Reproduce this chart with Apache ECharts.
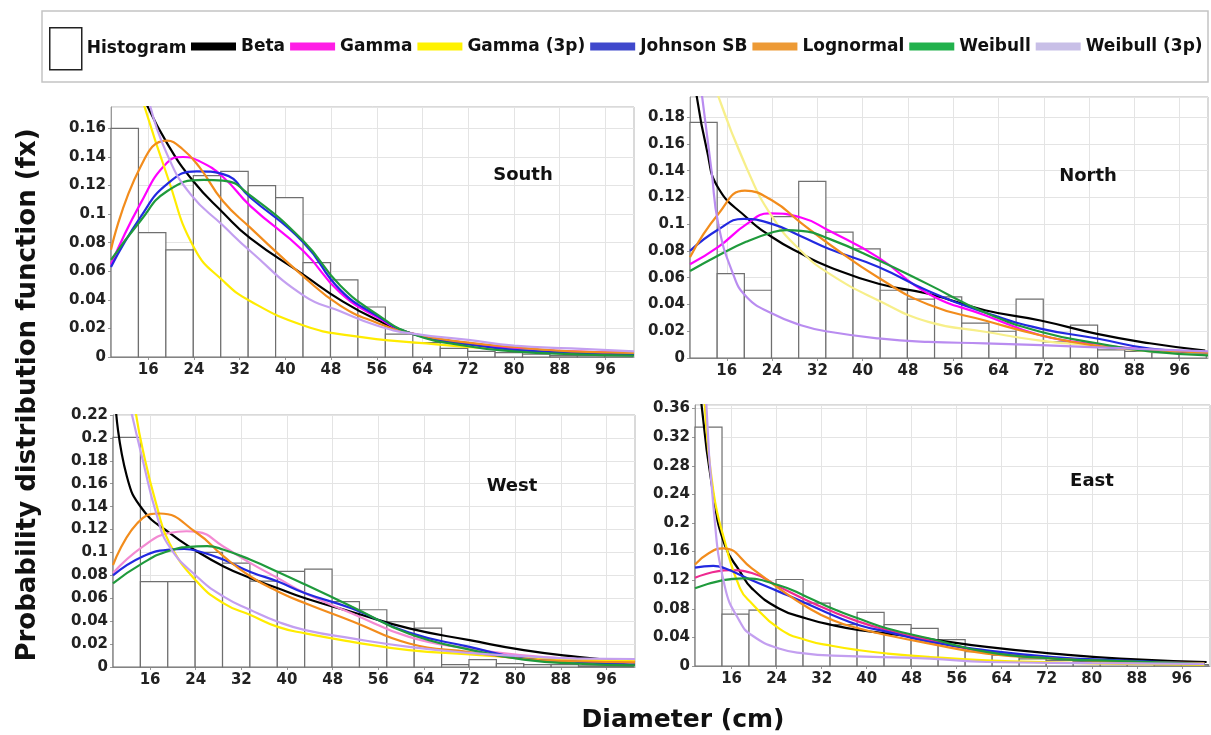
<!DOCTYPE html>
<html>
<head>
<meta charset="utf-8">
<title>Diameter distributions by region</title>
<script src="https://cdn.jsdelivr.net/npm/echarts@6/dist/echarts.min.js"></script>
<style>
  html, body { margin: 0; padding: 0; background: #fff; }
  #main { width: 1211px; height: 735px; }
</style>
</head>
<body>
<div id="main"></div>
<script>
// bin edges of the diameter histogram (cm), same for all regions
var binEdges = [9.5, 14.3, 19.1, 23.9, 28.7, 33.5, 38.3, 43.1, 47.9, 52.7, 57.5,
                62.3, 67.1, 71.9, 76.7, 81.5, 86.3, 91.1, 95.9, 100.7];
var xTicks = [16, 24, 32, 40, 48, 56, 64, 72, 80, 88, 96];
var distNames = ['Beta', 'Gamma', 'Gamma (3p)', 'Johnson SB', 'Lognormal', 'Weibull', 'Weibull (3p)'];

// histogram densities (one per bin)
var southHist = [0.160, 0.087, 0.075, 0.127, 0.130, 0.120, 0.1115, 0.066, 0.054, 0.035,
                 0.016, 0.010, 0.006, 0.004, 0.003, 0.002, 0.001, 0.001, 0.001];
var northHist = [0.176, 0.063, 0.0506, 0.1056, 0.132, 0.094, 0.0815, 0.0506, 0.044, 0.0456,
                 0.026, 0.020, 0.044, 0.012, 0.0245, 0.006, 0.005, 0.004, 0.003];
var westHist = [0.2005, 0.0746, 0.0746, 0.100, 0.0907, 0.075, 0.0834, 0.0855, 0.057, 0.050,
                0.0395, 0.034, 0.002, 0.0065, 0.003, 0.002, 0.002, 0.001, 0.001];
var eastHist = [0.334, 0.0725, 0.078, 0.121, 0.088, 0.058, 0.075, 0.058, 0.0525, 0.037,
                0.020, 0.015, 0.010, 0.008, 0.006, 0.004, 0.003, 0.002, 0.002];

// fitted pdf curves, [diameter, density]
var southBeta = [[15.6,0.178],[19.4,0.149],[23.9,0.123],[29.1,0.101],[33.9,0.083],[43.2,0.0575],[49.6,0.040],[56,0.026],[62,0.0165],[72,0.009],[80,0.006],[90,0.0035],[101,0.002]];
var southGamma = [[9.5,0.0646],[14.6,0.107],[19.3,0.136],[22.1,0.140],[25,0.137],[29.1,0.126],[33.9,0.1056],[43.2,0.074],[49.6,0.045],[56,0.028],[62,0.0165],[72,0.0097],[80,0.006],[90,0.004],[101,0.003]];
var southGamma3p = [[15.0,0.180],[19.4,0.126],[24.1,0.076],[29.2,0.053],[33.9,0.039],[43.2,0.022],[51.4,0.015],[64,0.0097],[80,0.005],[101,0.002]];
var southJohnson = [[9.5,0.063],[14.6,0.0975],[19.3,0.121],[24.5,0.130],[29.1,0.128],[33.9,0.1115],[43.2,0.080],[49.6,0.047],[56,0.029],[62,0.0165],[72,0.009],[80,0.005],[90,0.003],[101,0.0015]];
var southLognormal = [[9.5,0.075],[14.6,0.1327],[19.3,0.1514],[22,0.1456],[25,0.1327],[29.1,0.109],[33.9,0.0904],[43.2,0.0563],[49.6,0.036],[56,0.024],[62,0.0165],[72,0.010],[80,0.007],[90,0.004],[101,0.003]];
var southWeibull = [[9.5,0.068],[14.6,0.095],[19.3,0.116],[25.7,0.124],[29.1,0.1235],[33.9,0.113],[43.2,0.081],[49.6,0.050],[56,0.030],[62,0.0165],[72,0.0075],[80,0.004],[90,0.002],[101,0.001]];
var southWeibull3p = [[16.2,0.178],[19.3,0.142],[23.4,0.114],[29.1,0.092],[33.9,0.074],[43.2,0.043],[49.6,0.032],[56,0.022],[62,0.0165],[72,0.012],[80,0.008],[90,0.006],[101,0.004]];

var northBeta = [[10.6,0.198],[12.5,0.155],[14.5,0.127],[19.5,0.105],[24.1,0.090],[29.1,0.078],[34.1,0.068],[42.8,0.0555],[51.6,0.048],[61.6,0.0357],[71.4,0.028],[81.4,0.018],[90.7,0.011],[100.5,0.0055]];
var northGamma = [[9.5,0.070],[14.5,0.083],[19.5,0.100],[23.5,0.108],[29.1,0.105],[34.1,0.095],[42.8,0.075],[51.6,0.048],[61.6,0.032],[71.4,0.017],[81.4,0.010],[90.7,0.006],[101,0.004]];
var northGamma3p = [[14.3,0.198],[19.5,0.142],[24.1,0.105],[29.1,0.080],[34.1,0.063],[42.8,0.043],[51.6,0.027],[61.6,0.0196],[71.4,0.013],[81.4,0.009],[90.7,0.005],[101,0.003]];
var northJohnson = [[9.5,0.080],[14.5,0.096],[19,0.104],[24.1,0.100],[29.1,0.091],[34.1,0.0815],[42.8,0.068],[51.6,0.050],[61.6,0.034],[71.4,0.022],[81.4,0.0146],[90.7,0.007],[101,0.004]];
var northLognormal = [[9.5,0.0753],[14.5,0.1076],[19.2,0.125],[24.1,0.1175],[29.1,0.101],[34.1,0.085],[42.8,0.060],[51.6,0.040],[61.6,0.028],[71.4,0.017],[81.4,0.009],[90.7,0.006],[101,0.004]];
var northWeibull = [[9.5,0.065],[14.5,0.0766],[19.5,0.087],[24.1,0.094],[26.5,0.0955],[29.1,0.095],[34.1,0.089],[42.8,0.073],[51.6,0.055],[61.6,0.034],[71.4,0.0196],[81.4,0.011],[90.7,0.005],[101,0.002]];
var northWeibull3p = [[11.5,0.200],[13.3,0.140],[14.5,0.100],[17,0.064],[19.5,0.0456],[24.1,0.033],[29.1,0.0245],[34.1,0.0196],[42.8,0.0146],[51.6,0.012],[61.6,0.011],[81.4,0.008],[101,0.005]];

var westBeta = [[10.0,0.225],[11.9,0.167],[14.7,0.1375],[19.4,0.117],[24.2,0.101],[28.9,0.0878],[33.6,0.0776],[38.4,0.0688],[43.2,0.060],[51.4,0.048],[61.4,0.0337],[72,0.0234],[81.5,0.0147],[90.9,0.0088],[101,0.004]];
var westGamma = [[9.5,0.082],[14.7,0.105],[19.4,0.117],[22.4,0.1185],[24.2,0.118],[28.9,0.105],[33.6,0.0907],[38.4,0.0776],[43.2,0.0644],[51.4,0.0468],[61.4,0.0263],[72,0.0161],[81.5,0.0102],[90.9,0.007],[101,0.005]];
var westGamma3p = [[13.4,0.225],[14.7,0.190],[17.2,0.140],[19.4,0.108],[24.2,0.0746],[28.9,0.0556],[33.6,0.0454],[38.4,0.035],[43.2,0.0293],[51.4,0.022],[61.4,0.0147],[72,0.0111],[81.5,0.008],[90.9,0.0064],[101,0.005]];
var westJohnson = [[9.5,0.080],[14.7,0.0965],[19.4,0.1024],[22,0.103],[24.2,0.1015],[28.9,0.0936],[33.6,0.083],[38.4,0.0746],[43.2,0.0644],[51.4,0.051],[61.4,0.030],[72,0.0176],[81.5,0.0073],[90.9,0.0044],[101,0.002]];
var westLognormal = [[9.5,0.089],[14.7,0.130],[17.7,0.134],[24.2,0.117],[28.9,0.0965],[33.6,0.079],[38.4,0.066],[43.2,0.0556],[51.4,0.040],[61.4,0.0205],[72,0.013],[81.5,0.007],[90.9,0.005],[101,0.004]];
var westWeibull = [[9.5,0.073],[14.7,0.0907],[19.4,0.1015],[24.2,0.1053],[26,0.1055],[28.9,0.1024],[33.6,0.0936],[38.4,0.083],[43.2,0.072],[51.4,0.0527],[61.4,0.029],[72,0.0152],[81.5,0.0064],[90.9,0.003],[101,0.0015]];
var westWeibull3p = [[12.6,0.225],[14.7,0.181],[17.2,0.132],[19.4,0.105],[24.2,0.079],[28.9,0.0614],[33.6,0.0498],[38.4,0.0395],[43.2,0.0322],[51.4,0.025],[61.4,0.0176],[72,0.0123],[81.5,0.0094],[90.9,0.0073],[101,0.007]];

var eastBeta = [[10.6,0.370],[12.75,0.239],[14.8,0.169],[17.5,0.132],[19.6,0.1086],[24.4,0.0805],[29.3,0.0665],[34,0.057],[38.7,0.050],[43.7,0.0454],[50,0.039],[61.3,0.0267],[73.1,0.0174],[85,0.0104],[100.4,0.0056]];
var eastGamma = [[9.5,0.1234],[15.7,0.134],[19.6,0.130],[24.4,0.111],[29.3,0.092],[34,0.076],[38.7,0.0617],[43.7,0.050],[51.2,0.036],[61.3,0.0197],[73.1,0.0115],[85,0.006],[100,0.003]];
var eastGamma3p = [[11.2,0.370],[12.75,0.245],[14.8,0.174],[17.5,0.1086],[19.6,0.0875],[24.4,0.0525],[29.3,0.036],[34,0.028],[38.7,0.022],[43.7,0.0174],[51.2,0.0126],[61.3,0.008],[73.1,0.005],[85,0.003],[100,0.002]];
var eastJohnson = [[9.5,0.1375],[12.75,0.140],[14.8,0.1366],[19.6,0.120],[24.4,0.104],[29.3,0.0875],[34,0.071],[38.7,0.057],[43.7,0.0477],[51.2,0.0337],[61.3,0.022],[73.1,0.0126],[85,0.008],[100,0.003]];
var eastLognormal = [[9.5,0.142],[12,0.158],[14.5,0.1646],[19.6,0.1366],[24.4,0.1086],[29.3,0.0828],[34,0.064],[38.7,0.0525],[43.7,0.043],[51.2,0.0314],[61.3,0.0174],[73.1,0.0104],[85,0.006],[100,0.004]];
var eastWeibull = [[9.5,0.1086],[14.5,0.120],[18,0.1226],[24.4,0.113],[29.3,0.097],[34,0.080],[38.7,0.066],[43.7,0.0525],[51.2,0.0384],[61.3,0.0197],[73.1,0.0104],[85,0.007],[100,0.003]];
var eastWeibull3p = [[11.5,0.370],[12.75,0.225],[14.8,0.111],[17.5,0.0617],[19.6,0.043],[24.4,0.0244],[29.3,0.0174],[34,0.0145],[51.2,0.0104],[61.3,0.0056],[80,0.004],[100,0.003]];

var FONT = '"DejaVu Sans", Verdana, sans-serif';
var lineColors = ['#000000', '#ff00ff', '#ffec00', '#2229e0', '#f28c1c', '#1f9a3c', '#c39ff0'];
var legendColors = ['#000000', '#ff1ee6', '#fff200', '#3f48cc', '#ed9a35', '#22b14c', '#c8bfe7'];

var panels = [
  { label: 'South', hist: southHist, yMax: 0.175, step: 0.02, grid: {left: 111, top: 107, width: 523, height: 250}, tx: 523, ty: 175,
    curves: [southBeta, southGamma, southGamma3p, southJohnson, southLognormal, southWeibull, southWeibull3p] },
  { label: 'North', hist: northHist, yMax: 0.195, step: 0.02, grid: {left: 690, top: 97, width: 518, height: 261}, tx: 1088, ty: 176,
    curves: [northBeta, northGamma, northGamma3p, northJohnson, northLognormal, northWeibull, northWeibull3p],
    colors: {2: '#f7ef8a', 6: '#b98cf0'} },
  { label: 'West', hist: westHist, yMax: 0.22, step: 0.02, grid: {left: 113, top: 415, width: 522, height: 252}, tx: 512, ty: 486,
    curves: [westBeta, westGamma, westGamma3p, westJohnson, westLognormal, westWeibull, westWeibull3p],
    colors: {1: '#f38ad2'} },
  { label: 'East', hist: eastHist, yMax: 0.365, step: 0.04, grid: {left: 695, top: 405, width: 515, height: 261}, tx: 1092, ty: 481,
    curves: [eastBeta, eastGamma, eastGamma3p, eastJohnson, eastLognormal, eastWeibull, eastWeibull3p],
    colors: {1: '#ee2a90'} }
];

function histRect(params, api) {
  var topLeft = api.coord([api.value(0), api.value(2)]);
  var botRight = api.coord([api.value(1), 0]);
  return {
    type: 'rect',
    shape: { x: topLeft[0], y: topLeft[1], width: botRight[0] - topLeft[0], height: botRight[1] - topLeft[1] },
    style: { fill: '#fff', stroke: '#6f6f6f', lineWidth: 1.2 }
  };
}

var grids = [], xAxes = [], yAxes = [], series = [], graphics = [];
var tickLabel = { fontFamily: FONT, fontWeight: 'bold', fontSize: 15, color: '#222' };

panels.forEach(function (p, i) {
  grids.push(Object.assign({ show: true, borderColor: '#b5b5b5', borderWidth: 1, backgroundColor: '#fff', outerBoundsMode: 'none' }, p.grid));
  xAxes.push({
    type: 'value', gridIndex: i, min: 9.5, max: 101,
    axisLine: { show: true, lineStyle: { color: '#999' } },
    axisTick: { show: true, customValues: xTicks, length: 3, lineStyle: { color: '#999' } },
    axisLabel: Object.assign({ customValues: xTicks, margin: 6 }, tickLabel),
    splitLine: { show: true, lineStyle: { color: '#e4e4e4' } }
  });
  yAxes.push({
    type: 'value', gridIndex: i, min: 0, max: p.yMax, interval: p.step,
    axisLine: { show: true, lineStyle: { color: '#999' } },
    axisTick: { show: true, length: 3, lineStyle: { color: '#999' } },
    axisLabel: Object.assign({ margin: 5, showMaxLabel: p.yMax === 0.22 }, tickLabel),
    splitLine: { show: true, lineStyle: { color: '#e4e4e4' } }
  });

  var bars = p.hist.map(function (v, k) { return [binEdges[k], binEdges[k + 1], v]; });
  series.push({
    name: 'Histogram', type: 'custom', xAxisIndex: i, yAxisIndex: i,
    renderItem: histRect, encode: { x: [0, 1], y: 2 }, data: bars, z: 2,
    itemStyle: { color: '#fff', borderColor: '#222', borderWidth: 1.5 }
  });

  p.curves.forEach(function (pts, k) {
    var c = (p.colors && p.colors[k]) || lineColors[k];
    series.push({
      name: distNames[k], type: 'line', xAxisIndex: i, yAxisIndex: i,
      data: pts, symbol: 'none', smooth: 0.5, clip: true, z: 3,
      lineStyle: { color: c, width: 2.2 }, itemStyle: { color: c }
    });
  });

  graphics.push({
    type: 'text', x: p.tx, y: p.ty, z: 10,
    style: { text: p.label, font: 'bold 18px ' + FONT, fill: '#111', textAlign: 'center', textVerticalAlign: 'middle' }
  });
});

graphics.push({
  type: 'rect', shape: { x: 42, y: 11, width: 1166, height: 71 },
  style: { fill: 'none', stroke: '#c4c4c4', lineWidth: 1.5 }
});
graphics.push({
  type: 'text', x: 28, y: 395, rotation: Math.PI / 2,
  style: { text: 'Probability distribution function (fx)', font: 'bold 26px ' + FONT, fill: '#111', textAlign: 'center', textVerticalAlign: 'middle' }
});
graphics.push({
  type: 'text', x: 683, y: 720,
  style: { text: 'Diameter (cm)', font: 'bold 25px ' + FONT, fill: '#111', textAlign: 'center', textVerticalAlign: 'middle' }
});

var legendText = { fontFamily: FONT, fontWeight: 'bold', fontSize: 17, color: '#111' };

var option = {
  backgroundColor: '#fff',
  animation: false,
  legend: [
    {
      data: [{ name: 'Histogram', icon: 'rect', itemStyle: { color: '#fff', borderColor: '#222', borderWidth: 1.5 } }],
      left: 49, top: 27, padding: 0, itemWidth: 32, itemHeight: 42, itemGap: 5,
      selectedMode: false, textStyle: legendText
    },
    {
      data: distNames.map(function (n, k) {
        return { name: n, icon: 'rect', itemStyle: { color: legendColors[k], borderWidth: 0 } };
      }),
      left: 191, top: 38, padding: 0, itemWidth: 45, itemHeight: 8, itemGap: 5,
      selectedMode: false, textStyle: legendText
    }
  ],
  grid: grids,
  xAxis: xAxes,
  yAxis: yAxes,
  series: series,
  graphic: graphics
};

var myChart = echarts.init(document.getElementById('main'));
myChart.setOption(option);
window.onresize = myChart.resize;
</script>
</body>
</html>
